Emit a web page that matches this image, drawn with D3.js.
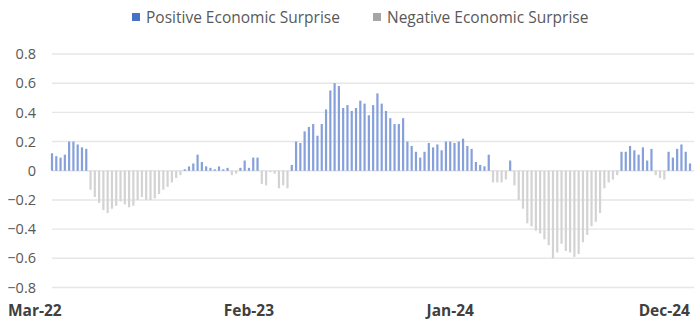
<!DOCTYPE html>
<html>
<head>
<meta charset="utf-8">
<script src="https://cdn.jsdelivr.net/npm/d3@7/dist/d3.min.js"></script>
<style>
  html, body { margin: 0; padding: 0; background: #ffffff; }
  svg { display: block; font-family: "Open Sans", "Noto Sans", sans-serif; }
</style>
</head>
<body>
<svg id="chart" width="694" height="323"></svg>
<script>
// Weekly economic surprise index values
const values = [
  0.12, 0.10, 0.09, 0.11, 0.20, 0.20, 0.18, 0.16, 0.15,
  -0.13, -0.18, -0.22, -0.27, -0.29, -0.26, -0.24, -0.21, -0.23, -0.25,
  -0.24, -0.20, -0.18, -0.20, -0.20, -0.19, -0.16, -0.13, -0.11, -0.08,
  -0.05, -0.03,
  0.01, 0.03, 0.05, 0.11, 0.06, 0.03, 0.02, 0.01, 0.03, 0.01, 0.02,
  -0.03, -0.02, 0.02, 0.07, 0.02, 0.09, 0.09, -0.09, -0.10, -0.01, -0.02,
  -0.12, -0.10, -0.12,
  0.04, 0.20, 0.19, 0.27, 0.30, 0.32, 0.24, 0.32, 0.42, 0.55, 0.60, 0.58,
  0.43, 0.45, 0.41, 0.43, 0.48, 0.46, 0.38, 0.45, 0.53, 0.46, 0.41, 0.36,
  0.32, 0.32, 0.36, 0.20, 0.17, 0.13, 0.09, 0.13, 0.19, 0.16, 0.18, 0.14,
  0.20, 0.20, 0.19, 0.20, 0.22, 0.17, 0.15, 0.06, 0.04, 0.03, 0.11,
  -0.08, -0.08, -0.08, -0.06, 0.07,
  -0.10, -0.20, -0.26, -0.36, -0.38, -0.41, -0.43, -0.47, -0.51, -0.60,
  -0.56, -0.50, -0.55, -0.56, -0.59, -0.57, -0.49, -0.44, -0.38, -0.35,
  -0.29, -0.12, -0.08, -0.06, -0.03,
  0.13, 0.13, 0.17, 0.14, 0.11, 0.16, 0.07, 0.15,
  -0.03, -0.05, -0.06,
  0.13, 0.09, 0.15, 0.18, 0.13, 0.05
];
// X-axis labels and the week index they refer to
const xTickLabels = ["Mar-22", "Feb-23", "Jan-24", "Dec-24"];
const xTickIndex = [-4, 46, 93, 143];
// Y-axis ticks
const yTicks = [0.8, 0.6, 0.4, 0.2, 0, -0.2, -0.4, -0.6, -0.8];
const seriesNames = ["Positive Economic Surprise", "Negative Economic Surprise"];
const seriesColors = ["#4472c4", "#a5a5a5"];

const svg = d3.select("#chart");
const plotLeft = 52, plotRight = 694;

const x = d3.scaleLinear().domain([0, values.length - 1]).range([52, 690]);
const y = d3.scaleLinear().domain([-0.8, 0.8]).range([287.5, 54]);

// gridlines
svg.append("g").selectAll("line").data(yTicks).join("line")
  .attr("x1", plotLeft).attr("x2", plotRight)
  .attr("y1", d => y(d)).attr("y2", d => y(d))
  .attr("stroke", "#e6e6e6").attr("stroke-width", 1.4);

// y axis labels
const yAxis = d3.axisLeft(y).tickValues(yTicks).tickSize(0).tickPadding(0)
  .tickFormat(d => d === 0 ? "0" : d3.format(".1f")(d));
const gy = svg.append("g").attr("transform", "translate(36,0)").call(yAxis);
gy.select(".domain").remove();
gy.selectAll("text").attr("fill", "#595959").style("font-size", "14.5px")
  .style("font-family", "'Open Sans', sans-serif");

// bars
const bw = 2.2;
svg.append("g").selectAll("rect").data(values).join("rect")
  .attr("x", (d, i) => x(i) - bw / 2)
  .attr("width", bw)
  .attr("y", d => y(Math.max(0, d)))
  .attr("height", d => Math.abs(y(d) - y(0)))
  .attr("fill", d => d >= 0 ? "#85a0db" : "#d3d3d3");

// x labels
svg.append("g").selectAll("text").data(xTickLabels).join("text")
  .attr("x", (d, i) => x(xTickIndex[i]))
  .attr("y", 316)
  .attr("text-anchor", "middle")
  .attr("fill", "#404040")
  .style("font-size", "15.5px")
  .style("font-weight", "bold")
  .text(d => d);

// legend
const legend = svg.append("g");
const legX = [132, 373];
seriesNames.forEach((name, i) => {
  legend.append("rect").attr("x", legX[i]).attr("y", 13).attr("width", 8).attr("height", 8)
    .attr("fill", seriesColors[i]);
  legend.append("text").attr("x", legX[i] + 14).attr("y", 22.5)
    .attr("fill", "#595959").style("font-size", "15.5px").text(name);
});
</script>
</body>
</html>
